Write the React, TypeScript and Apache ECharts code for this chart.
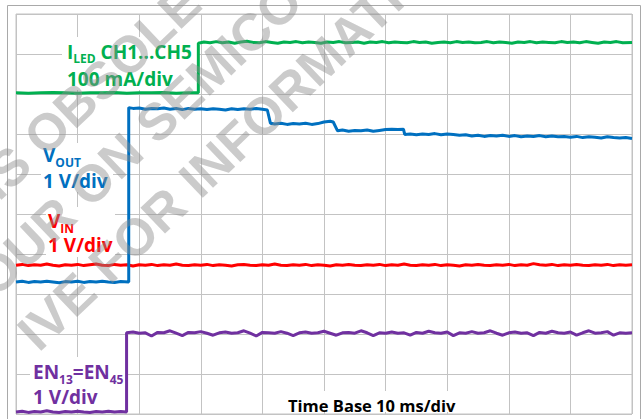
import React, { useEffect, useRef } from "react";
import * as echarts from "echarts";

// Scope capture: 10 ms/div horizontally, 10 divisions vertically.
// Each trace is a list of [time (ms), level (divisions from the bottom)].
const iledTrace: [number, number][] = [
  [0, 8.03], [2, 8.02], [4, 8.03], [6, 8.04], [8, 8.03], [10, 8.02], [12, 8.03], [14, 8.03],
  [16, 8.04], [18, 8.02], [20, 8.03], [22, 8.03], [24, 8.04], [26, 8.02], [28, 8.03], [29.6, 8.03],
  [29.6, 9.27], [30.5, 9.3], [31.5, 9.28], [32.5, 9.31], [33.5, 9.28], [34.5, 9.3], [35.5, 9.27],
  [36.5, 9.3], [37.5, 9.32], [38.5, 9.29], [39.5, 9.28], [40.5, 9.31], [41.5, 9.29], [42.5, 9.27],
  [43.5, 9.3], [44.5, 9.29], [45.5, 9.31], [46.5, 9.28], [47.5, 9.3], [48.5, 9.29], [49.5, 9.27],
  [50.5, 9.3], [51.5, 9.29], [52.5, 9.31], [53.5, 9.28], [54.5, 9.29], [55.5, 9.3], [56.5, 9.27],
  [57.5, 9.3], [58.5, 9.29], [59.5, 9.31], [60.5, 9.28], [61.5, 9.3], [62.5, 9.29], [63.5, 9.28],
  [64.5, 9.31], [65.5, 9.29], [66.5, 9.3], [67.5, 9.27], [68.5, 9.29], [69.5, 9.3], [70.5, 9.28],
  [71.5, 9.31], [72.5, 9.29], [73.5, 9.3], [74.5, 9.28], [75.5, 9.29], [76.5, 9.31], [77.5, 9.28],
  [78.5, 9.3], [79.5, 9.29], [80.5, 9.27], [81.5, 9.3], [82.5, 9.29], [83.5, 9.31], [84.5, 9.28],
  [85.5, 9.3], [86.5, 9.29], [87.5, 9.28], [88.5, 9.31], [89.5, 9.29], [90.5, 9.3], [91.5, 9.28],
  [92.5, 9.31], [93.5, 9.29], [94.5, 9.27], [95.5, 9.3], [96.5, 9.29], [97.5, 9.31], [98.5, 9.28],
  [100, 9.29],
];

const voutTrace: [number, number][] = [
  [0, 3.3], [1, 3.32], [2, 3.29], [3, 3.31], [4, 3.3], [5, 3.32], [6, 3.3], [7, 3.28], [8, 3.31],
  [9, 3.3], [10, 3.32], [11, 3.29], [12, 3.31], [13, 3.3], [14, 3.32], [15, 3.3], [16, 3.29],
  [17, 3.31], [18.3, 3.3],
  [18.3, 7.66], [19, 7.64], [20, 7.65], [21, 7.62], [22, 7.64], [23, 7.63], [24, 7.65], [25, 7.62],
  [26, 7.64], [27, 7.61], [28, 7.64], [29, 7.62], [30, 7.63], [31, 7.61], [32, 7.63], [33, 7.62],
  [34, 7.6], [35, 7.63], [36, 7.61], [37, 7.63], [38, 7.62], [39, 7.64], [40, 7.62], [40.8, 7.6],
  [41.3, 7.27], [42, 7.25], [43, 7.27], [44, 7.24], [45, 7.26], [46, 7.25], [47, 7.27], [48, 7.24],
  [49, 7.26], [50, 7.3], [51, 7.32], [51.5, 7.3],
  [52.2, 7.08], [53, 7.1], [54, 7.07], [55, 7.09], [56, 7.08], [57, 7.1], [58, 7.07], [59, 7.09],
  [60, 7.11], [61, 7.12], [62, 7.11], [62.9, 7.12],
  [63.1, 6.99], [64, 7.0], [65, 6.98], [66, 7.0], [67, 6.99], [68, 7.01], [69, 6.98], [70, 7.0],
  [71, 6.99], [72, 6.97], [73, 6.98], [74, 6.95], [75, 6.97], [76, 6.94], [77, 6.96], [78, 6.95],
  [79, 6.97], [80, 6.94], [81, 6.96], [82, 6.93], [83, 6.95], [84, 6.94], [85, 6.96], [86, 6.93],
  [87, 6.95], [88, 6.93], [89, 6.94], [90, 6.92], [91, 6.94], [92, 6.91], [93, 6.93], [94, 6.92],
  [95, 6.9], [96, 6.93], [97, 6.91], [98, 6.9], [99, 6.91], [100, 6.89],
];

const vinTrace: [number, number][] = [
  [0, 3.72], [1, 3.74], [2, 3.71], [3, 3.73], [4, 3.72], [5, 3.75], [6, 3.72], [7, 3.7], [8, 3.73],
  [9, 3.72], [10, 3.74], [11, 3.71], [12, 3.73], [13, 3.75], [14, 3.72], [15, 3.71], [16, 3.74],
  [17, 3.72], [18, 3.73], [19, 3.7], [20, 3.73], [21, 3.72], [22, 3.74], [23, 3.71], [24, 3.73],
  [25, 3.72], [26, 3.75], [27, 3.72], [28, 3.71], [29, 3.73], [30, 3.72], [31, 3.74], [32, 3.71],
  [33, 3.73], [34, 3.72], [35, 3.7], [36, 3.73], [37, 3.74], [38, 3.72], [39, 3.71], [40, 3.73],
  [41, 3.72], [42, 3.75], [43, 3.72], [44, 3.71], [45, 3.73], [46, 3.72], [47, 3.74], [48, 3.71],
  [49, 3.73], [50, 3.72], [51, 3.7], [52, 3.73], [53, 3.72], [54, 3.74], [55, 3.72], [56, 3.71],
  [57, 3.73], [58, 3.72], [59, 3.74], [60, 3.71], [61, 3.73], [62, 3.72], [63, 3.75], [64, 3.72],
  [65, 3.71], [66, 3.73], [67, 3.72], [68, 3.74], [69, 3.71], [70, 3.73], [71, 3.72], [72, 3.7],
  [73, 3.73], [74, 3.72], [75, 3.74], [76, 3.72], [77, 3.71], [78, 3.73], [79, 3.72], [80, 3.74],
  [81, 3.71], [82, 3.73], [83, 3.72], [84, 3.76], [85, 3.73], [86, 3.72], [87, 3.74], [88, 3.71],
  [89, 3.73], [90, 3.72], [91, 3.74], [92, 3.72], [93, 3.71], [94, 3.73], [95, 3.72], [96, 3.74],
  [97, 3.71], [98, 3.73], [99, 3.72], [100, 3.73],
];

const enTrace: [number, number][] = [
  [0, 0.05], [1, 0.07], [2, 0.04], [3, 0.06], [4, 0.05], [5, 0.08], [6, 0.05], [7, 0.04], [8, 0.06],
  [9, 0.05], [10, 0.07], [11, 0.05], [12, 0.04], [13, 0.06], [14, 0.05], [15, 0.07], [16, 0.05],
  [17, 0.06], [17.95, 0.05],
  [17.95, 2.03], [19, 2.05], [20, 2.02], [21, 2.03], [22, 1.95], [23, 2.04], [24, 2.03], [25, 2.08],
  [26, 2.02], [27, 1.96], [28, 2.04], [29, 2.03], [30, 2.06], [31, 2.02], [32, 1.97], [33, 2.03],
  [34, 2.05], [35, 2.02], [36, 2.03], [37, 2.08], [38, 2.02], [39, 1.95], [40, 2.04], [41, 2.03],
  [42, 2.02], [43, 2.06], [44, 2.02], [45, 1.96], [46, 2.03], [47, 2.05], [48, 2.02], [49, 2.03],
  [50, 2.07], [51, 2.02], [52, 1.97], [53, 2.03], [54, 2.04], [55, 2.02], [56, 2.08], [57, 2.03],
  [58, 1.96], [59, 2.03], [60, 2.02], [61, 2.05], [62, 2.02], [63, 2.03], [64, 1.97], [65, 2.04],
  [66, 2.02], [67, 2.07], [68, 2.03], [69, 2.02], [70, 2.05], [71, 1.96], [72, 2.03], [73, 2.02],
  [74, 2.06], [75, 2.02], [76, 2.03], [77, 2.08], [78, 2.02], [79, 1.97], [80, 2.03], [81, 2.05],
  [82, 2.02], [83, 2.03], [84, 1.96], [85, 2.04], [86, 2.02], [87, 2.07], [88, 2.03], [89, 2.02],
  [90, 2.05], [91, 1.97], [92, 2.03], [93, 2.08], [94, 2.02], [95, 2.03], [96, 2.06], [97, 1.97],
  [98, 2.03], [99, 2.02], [100, 2.03],
];

const timeRangeMs = [0, 100];
const levelRangeDiv = [0, 10];

const watermarkLines = ["IS OBSOLE", "OUR ON SEMICO", "IVE FOR INFORMATI"];

const GREEN = "#00b050";
const BLUE = "#0070c0";
const RED = "#ff0000";
const PURPLE = "#7030a0";

const LABEL_FONT = "'Open Sans', Lato, sans-serif";

// A channel label line; {m|...} is normal text, {s|...} is a subscript.
// The subscript token has a tiny box pinned to the line bottom, which
// drops its glyphs about 7px below the main text's centre.
function label(text: string, x: number, y: number, fill: string, size = 19) {
  return {
    type: "text",
    x,
    y,
    z: 6,
    silent: true,
    style: {
      text,
      x: 0,
      y: 0,
      fill,
      font: `bold ${size}px ${LABEL_FONT}`,
      align: "left",
      verticalAlign: "middle",
      textAlign: "left",
      textVerticalAlign: "middle",
      rich: {
        m: {
          fill,
          font: `bold ${size}px ${LABEL_FONT}`,
          lineHeight: 18,
          verticalAlign: "middle",
        },
        s: {
          fill,
          font: `bold 12px ${LABEL_FONT}`,
          height: 4,
          lineHeight: 4,
          verticalAlign: "bottom",
        },
      },
    },
  };
}

function box(x: number, y: number, w: number, h: number) {
  return {
    type: "rect",
    z: 1,
    silent: true,
    shape: { x, y, width: w, height: h },
    style: { fill: "#ffffff" },
  };
}

// Diagonal stamp across the capture
const WM_ANGLE = (43.5 * Math.PI) / 180;
const wmPlacement = [
  { offset: 128, start: -140 },
  { offset: 196, start: -209 },
  { offset: 265, start: -215 },
];

function watermark() {
  const dx = Math.cos(WM_ANGLE);
  const dy = -Math.sin(WM_ANGLE);
  const nx = Math.sin(WM_ANGLE);
  const ny = Math.cos(WM_ANGLE);
  return watermarkLines.map((text, i) => {
    const p = wmPlacement[i];
    return {
      type: "text",
      x: nx * p.offset + dx * p.start,
      y: ny * p.offset + dy * p.start,
      rotation: WM_ANGLE,
      z: 20,
      silent: true,
      style: {
        text,
        x: 0,
        y: 0,
        fill: "#8c8c8c",
        opacity: 0.45,
        font: "bold 52px 'Liberation Sans', Arial, sans-serif",
        align: "left",
        verticalAlign: "middle",
        textAlign: "left",
        textVerticalAlign: "middle",
      },
    };
  });
}

function traceSeries(name: string, data: [number, number][], color: string) {
  return {
    name,
    type: "line",
    data,
    showSymbol: false,
    silent: true,
    z: 3,
    lineStyle: { color, width: 3 },
    itemStyle: { color },
  };
}

export default function App() {
  const ref = useRef<HTMLDivElement>(null);

  useEffect(() => {
    if (!ref.current) return;
    const chart = echarts.init(ref.current, undefined, { renderer: "svg" });
    const gridColor = "#c3c3c3";
    chart.setOption({
      animation: false,
      backgroundColor: "#ffffff",
      grid: {
        left: 16,
        top: 14,
        width: 616,
        height: 400,
        show: true,
        borderColor: gridColor,
        borderWidth: 1,
        backgroundColor: "transparent",
      },
      xAxis: {
        type: "value",
        min: timeRangeMs[0],
        max: timeRangeMs[1],
        interval: 10,
        axisLine: { show: false },
        axisTick: { show: false },
        axisLabel: { show: false },
        splitLine: { show: true, lineStyle: { color: gridColor, width: 1 } },
      },
      yAxis: {
        type: "value",
        min: levelRangeDiv[0],
        max: levelRangeDiv[1],
        interval: 1,
        axisLine: { show: false },
        axisTick: { show: false },
        axisLabel: { show: false },
        splitLine: { show: true, lineStyle: { color: gridColor, width: 1 } },
      },
      series: [
        traceSeries("VIN", vinTrace, RED),
        traceSeries("EN", enTrace, PURPLE),
        traceSeries("VOUT", voutTrace, BLUE),
        traceSeries("ILED", iledTrace, GREEN),
      ],
      graphic: [
        {
          type: "rect",
          z: 0,
          silent: true,
          shape: { x: 7.5, y: 5.5, width: 633, height: 420 },
          style: { fill: "none", stroke: "#a9a9a9", lineWidth: 1 },
        },
        // label backdrops
        box(62, 37, 135, 53),
        box(41, 143, 72, 49),
        box(46, 207, 69, 50),
        box(30, 357, 97, 52),
        box(285, 391, 167, 21),
        // channel labels
        label("{m|I}{s|LED}{m| CH1...CH5}", 67, 51.5, GREEN),
        label("{m|100 mA/div}", 67, 79, GREEN),
        label("{m|V}{s|OUT}", 43, 155, BLUE),
        label("{m|1 V/div}", 43, 181, BLUE),
        label("{m|V}{s|IN}", 48, 221, RED),
        label("{m|1 V/div}", 48, 245, RED),
        label("{m|EN}{s|13}{m|=EN}{s|45}", 33, 372, PURPLE),
        label("{m|1 V/div}", 33, 397, PURPLE),
        label("{m|Time Base 10 ms/div}", 288, 405, "#000000", 16.5),
        ...watermark(),
      ],
    });
    return () => chart.dispose();
  }, []);

  return (
    <div
      ref={ref}
      style={{ position: "fixed", left: 0, top: 0, width: 642, height: 419 }}
    />
  );
}
